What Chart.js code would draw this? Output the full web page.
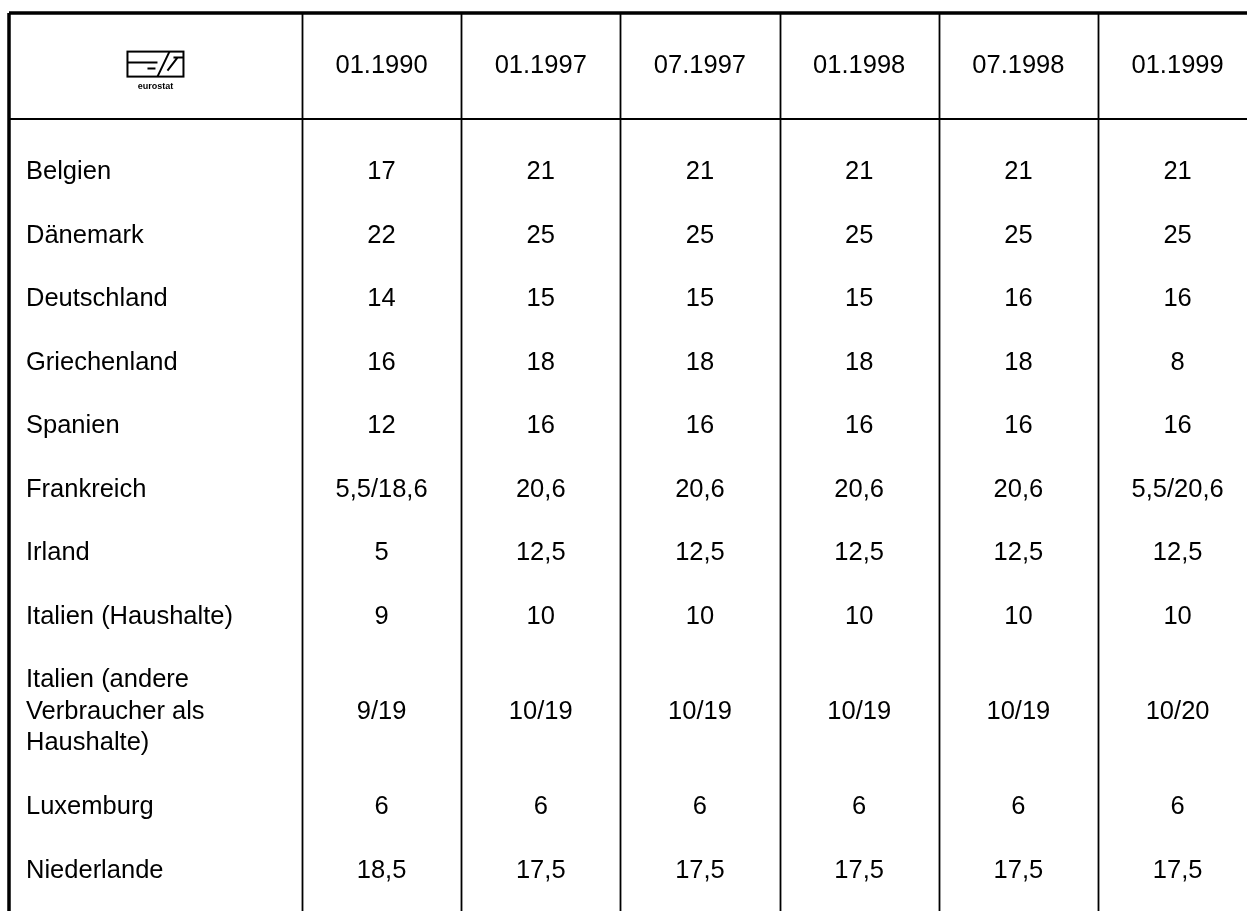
<!DOCTYPE html>
<html>
<head>
<meta charset="utf-8">
<title>MwSt-Sätze</title>
<script src="https://cdn.jsdelivr.net/npm/chart.js@4.4.1/dist/chart.umd.min.js"></script>
<style>
    html, body { margin: 0; padding: 0; background: #fff; }
    canvas { display: block; }
</style>
</head>
<body>
<canvas id="vat-table" width="1247" height="911"></canvas>
<script>
    "use strict";

    // Data
    var columns = ['01.1990', '01.1997', '07.1997', '01.1998', '07.1998', '01.1999'];
    var countries = [
        'Belgien', 'Dänemark', 'Deutschland', 'Griechenland', 'Spanien', 'Frankreich',
        'Irland', 'Italien (Haushalte)',
        ['Italien (andere', 'Verbraucher als', 'Haushalte)'],
        'Luxemburg', 'Niederlande'
    ];
    var rates1990_01 = ['17', '22', '14', '16', '12', '5,5/18,6', '5', '9', '9/19', '6', '18,5'];
    var rates1997_01 = ['21', '25', '15', '18', '16', '20,6', '12,5', '10', '10/19', '6', '17,5'];
    var rates1997_07 = ['21', '25', '15', '18', '16', '20,6', '12,5', '10', '10/19', '6', '17,5'];
    var rates1998_01 = ['21', '25', '15', '18', '16', '20,6', '12,5', '10', '10/19', '6', '17,5'];
    var rates1998_07 = ['21', '25', '16', '18', '16', '20,6', '12,5', '10', '10/19', '6', '17,5'];
    var rates1999_01 = ['21', '25', '16', '8', '16', '5,5/20,6', '12,5', '10', '10/20', '6', '17,5'];
    var allRates = [rates1990_01, rates1997_01, rates1997_07, rates1998_01, rates1998_07, rates1999_01];

    // Layout (scale units: one column = 1 on x, one text row = 1 on y)
    var X_MIN = -1.84, X_MAX = 5.936;
    var Y_MIN = -2.488, Y_MAX = 11.65;
    var HEADER_Y = -1.66, HEADER_LINE_Y = -0.82;
    var FONT = '25.5px "Liberation Sans", Arial, Helvetica, sans-serif';
    var LINE_H = 31.5;

    // row centres: a multi-line row takes two units
    var rowPos = [];
    var pos = 0, prevSpan = 0;
    countries.forEach(function (c, i) {
        var span = Array.isArray(c) ? 2 : 1;
        if (i > 0) pos += (prevSpan + span) / 2;
        rowPos.push(pos);
        prevSpan = span;
    });

    var datasets = allRates.map(function (rates, ci) {
        return {
            label: columns[ci],
            cellText: rates,
            data: rates.map(function (r, ri) { return { x: ci + 0.5, y: rowPos[ri] }; }),
            pointRadius: 0,
            pointHoverRadius: 0,
            showLine: false
        };
    });

    function drawLogo(ctx, cx, cy) {
        var l = cx - 28, t = cy - 14, w = 56, h = 25;
        ctx.save();
        ctx.strokeStyle = '#000';
        ctx.lineWidth = 2;
        ctx.strokeRect(l, t, w, h);
        ctx.beginPath();
        ctx.moveTo(l, t + 11); ctx.lineTo(l + 30, t + 11);
        ctx.moveTo(l + 20, t + 17); ctx.lineTo(l + 28, t + 17);
        ctx.moveTo(l + 30, t + h); ctx.lineTo(l + 42, t);
        ctx.moveTo(l + 40, t + h - 6); ctx.lineTo(l + 50, t + 6);
        ctx.moveTo(l + 46, t + 6); ctx.lineTo(l + w, t + 6);
        ctx.stroke();
        ctx.fillStyle = '#000';
        ctx.font = 'bold 9px "Liberation Sans", Arial, sans-serif';
        ctx.textAlign = 'center';
        ctx.textBaseline = 'middle';
        ctx.fillText('eurostat', cx, t + h + 10);
        ctx.restore();
    }

    // Table drawing plugin
    var tablePlugin = {
        id: 'tablePlugin',
        afterDatasetsDraw: function (chart) {
            var ctx = chart.ctx;
            var xs = chart.scales.x, ys = chart.scales.y;
            var area = chart.chartArea;

            ctx.save();
            ctx.strokeStyle = '#000';

            // outer border: top and left
            ctx.lineWidth = 3.5;
            ctx.beginPath();
            ctx.moveTo(xs.getPixelForValue(X_MIN), ys.getPixelForValue(Y_MIN));
            ctx.lineTo(area.right, ys.getPixelForValue(Y_MIN));
            ctx.moveTo(xs.getPixelForValue(X_MIN), ys.getPixelForValue(Y_MIN));
            ctx.lineTo(xs.getPixelForValue(X_MIN), area.bottom);
            ctx.stroke();

            // header separator
            ctx.lineWidth = 2;
            ctx.beginPath();
            ctx.moveTo(xs.getPixelForValue(X_MIN), ys.getPixelForValue(HEADER_LINE_Y));
            ctx.lineTo(area.right, ys.getPixelForValue(HEADER_LINE_Y));
            ctx.stroke();

            // column separators
            ctx.lineWidth = 1.8;
            ctx.beginPath();
            for (var i = 0; i < columns.length; i++) {
                var x = Math.round(xs.getPixelForValue(i)) + 0.5;
                ctx.moveTo(x, ys.getPixelForValue(Y_MIN));
                ctx.lineTo(x, area.bottom);
            }
            ctx.stroke();

            ctx.fillStyle = '#000';
            ctx.font = FONT;
            ctx.textBaseline = 'middle';

            // header
            ctx.textAlign = 'center';
            var hy = ys.getPixelForValue(HEADER_Y);
            columns.forEach(function (c, ci) {
                ctx.fillText(c, xs.getPixelForValue(ci + 0.5), hy);
            });
            drawLogo(ctx, xs.getPixelForValue(X_MIN / 2), hy);

            // row labels
            ctx.textAlign = 'left';
            var lx = xs.getPixelForValue(X_MIN) + 17;
            countries.forEach(function (c, ri) {
                var y = ys.getPixelForValue(rowPos[ri]) + 1;
                var lines = Array.isArray(c) ? c : [c];
                lines.forEach(function (line, li) {
                    ctx.fillText(line, lx, y + (li - (lines.length - 1) / 2) * LINE_H);
                });
            });

            // cells, placed on the dataset points
            ctx.textAlign = 'center';
            chart.data.datasets.forEach(function (ds, di) {
                chart.getDatasetMeta(di).data.forEach(function (pt, ri) {
                    ctx.fillText(ds.cellText[ri], pt.x, pt.y + 1);
                });
            });
            ctx.restore();
        }
    };

    var ctx1 = document.getElementById('vat-table').getContext('2d');
    var myTable = new Chart(ctx1, {
        type: 'scatter',
        data: { datasets: datasets },
        options: {
            responsive: false,
            animation: false,
            events: [],
            layout: { padding: { left: 9, top: 13, right: 0, bottom: 0 }, autoPadding: false },
            plugins: { legend: { display: false }, tooltip: { enabled: false } },
            scales: {
                x: { type: 'linear', min: X_MIN, max: X_MAX, display: false },
                y: { type: 'linear', min: Y_MIN, max: Y_MAX, reverse: true, display: false }
            }
        },
        plugins: [tablePlugin]
    });
</script>
</body>
</html>
